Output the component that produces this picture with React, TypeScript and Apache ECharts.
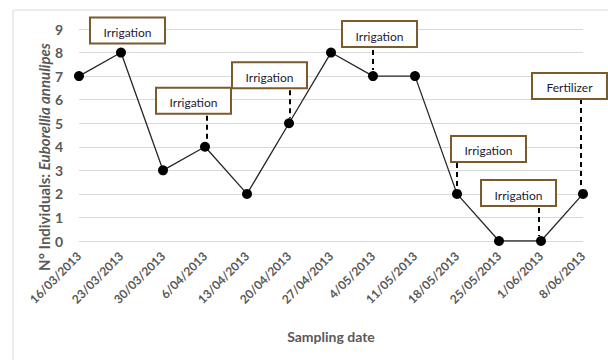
import React, { useEffect, useRef } from "react";
import * as echarts from "echarts";

const dates = [
  "16/03/2013", "23/03/2013", "30/03/2013", "6/04/2013", "13/04/2013",
  "20/04/2013", "27/04/2013", "4/05/2013", "11/05/2013", "18/05/2013",
  "25/05/2013", "1/06/2013", "8/06/2013",
];
const individuals = [7, 8, 3, 4, 2, 5, 8, 7, 7, 2, 0, 0, 2];

const eventIndex = [1, 3, 5, 7, 12, 9, 11];
const eventLabel = ["Irrigation", "Irrigation", "Irrigation", "Irrigation", "Fertilizer", "Irrigation", "Irrigation"];

// layout of annotation boxes relative to their point (pixels)
const boxDx = [-31, -49, -57, -31, -51, -6, -60];
const boxTopDy = [-35, -59, -61, -55, -121, -58, -61];
const dashFrom = [0, -31, -33, -26, -95, -31, -33];
const dashTo = [0, -4, -5, -6, -7, -4, -5];
const dashShift = [0, 2, 1, 0, -2, 0, -2];

const GRAY = "#595959";
const FONT = "Lato, 'Open Sans', sans-serif";

export default function App() {
  const ref = useRef<HTMLDivElement>(null);
  useEffect(() => {
    if (!ref.current) return;
    const chart = echarts.init(ref.current, null, { renderer: "svg" });
    chart.setOption({
      animation: false,
      backgroundColor: "#ffffff",
      grid: { left: 79, right: 25, top: 29, bottom: 119 },
      xAxis: {
        type: "category",
        data: dates,
        boundaryGap: false,
        axisLine: { show: false },
        axisTick: { show: false },
        axisLabel: {
          rotate: 45,
          margin: 13,
          color: GRAY,
          fontFamily: FONT,
          fontWeight: "bold",
          fontSize: 12,
          interval: 0,
        },
        name: "Sampling date",
        nameLocation: "middle",
        nameGap: 88,
        nameTextStyle: { color: GRAY, fontFamily: FONT, fontWeight: "bold", fontSize: 14 },
      },
      yAxis: {
        type: "value",
        min: 0,
        max: 9,
        interval: 1,
        axisLine: { show: false },
        axisTick: { show: false },
        splitLine: { lineStyle: { color: "#d9d9d9", width: 1 } },
        axisLabel: { margin: 16, color: GRAY, fontFamily: FONT, fontWeight: "bold", fontSize: 14 },
      },
      series: [
        {
          type: "line",
          data: individuals,
          symbol: "circle",
          symbolSize: 10,
          itemStyle: { color: "#000000" },
          lineStyle: { color: "#262626", width: 1.3 },
        },
      ],
    });

    const graphics: any[] = [
      {
        type: "rect",
        shape: { x: 13, y: 10, width: 700, height: 500 },
        style: { fill: "none", stroke: "#d9d9d9", lineWidth: 1 },
        silent: true,
        z: -1,
      },
      {
        type: "text",
        x: 44,
        y: 157,
        rotation: Math.PI / 2,
        style: {
          text: "{n|N° Individuals: }{i|Euborellia annulipes}",
          align: "center",
          verticalAlign: "middle",
          rich: {
            n: { fontFamily: FONT, fontWeight: "bold", fontSize: 15, fill: GRAY },
            i: { fontFamily: FONT, fontWeight: "bold", fontStyle: "italic", fontSize: 15, fill: GRAY },
          },
        },
      },
    ];

    eventIndex.forEach((idx, k) => {
      const p = chart.convertToPixel({ seriesIndex: 0 }, [idx, individuals[idx]]) as number[];
      const bx = p[0] + boxDx[k];
      const by = p[1] + boxTopDy[k];
      graphics.push({
        type: "rect",
        shape: { x: bx, y: by, width: 75, height: 26 },
        style: { fill: "#ffffff", stroke: "#7b5b2c", lineWidth: 2 },
        z: 10,
      });
      graphics.push({
        type: "text",
        x: bx + 37.5,
        y: by + 15,
        style: {
          text: eventLabel[k],
          align: "center",
          verticalAlign: "middle",
          fontFamily: FONT,
          fontSize: 12,
          fill: "#1a1a33",
        },
        z: 11,
      });
      if (dashFrom[k] !== 0) {
        graphics.push({
          type: "line",
          shape: {
            x1: p[0] + dashShift[k],
            y1: p[1] + dashFrom[k],
            x2: p[0] + dashShift[k],
            y2: p[1] + dashTo[k],
          },
          style: { stroke: "#000000", lineWidth: 2, lineDash: [5, 4] },
          z: 9,
        });
      }
    });

    chart.setOption({ graphic: graphics });
    return () => chart.dispose();
  }, []);
  return (
    <div
      ref={ref}
      style={{ position: "absolute", left: 0, top: 0, width: 608, height: 360 }}
    />
  );
}
